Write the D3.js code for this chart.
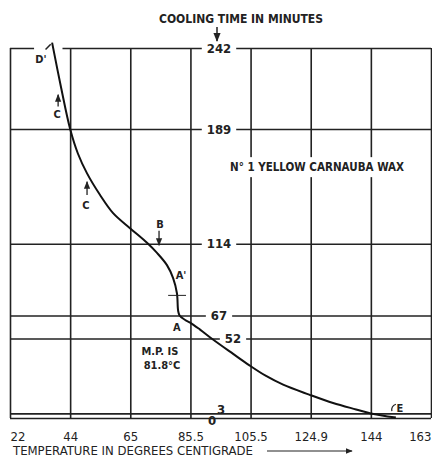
<!DOCTYPE html>
<html>
<head>
<meta charset="utf-8">
<script src="https://cdn.jsdelivr.net/npm/d3@7/dist/d3.min.js"></script>
<style>
  body { margin: 0; background: #fff; }
  text { font-family: "DejaVu Sans Condensed", "DejaVu Sans", sans-serif; fill: #222; }
</style>
</head>
<body>
<script>
// x ticks are printed evenly spaced on the sheet, so the temperature scale is piecewise
var tempTicks = [22, 44, 65, 85.5, 105.5, 124.9, 144, 163];
var timeTicks = [0, 3, 52, 67, 114, 189, 242];

// cooling curve (degrees C, minutes)
var curveTemp = [37.4, 40.7, 44, 46.7, 49.9, 54.4, 59.0, 65, 70.7, 74.1, 77.5, 79.6, 80.9, 81.3, 81.8,
                 83.7, 85.4, 88.7, 93.0, 99.7, 105.0, 110.5, 116.0, 124.4, 132.0, 139.3, 144.0, 151.9];
var curveTime = [245.5, 216, 189, 173, 160, 146, 134, 124, 114.6, 108, 100, 91.5, 81.6, 70.3, 67,
                 64.1, 62.4, 57.8, 51.3, 41.9, 34.6, 27.5, 21.8, 15.3, 9.8, 5.6, 3, 0.3];

// letters written on the curve
var noteText = ["D'", "C", "C", "B", "A'", "A", "M.P. IS", "81.8°C", "E"];
var noteTemp = [33.3, 39.2, 49.5, 75.1, 82.3, 80.9, 75.1, 75.8, 153.2];
var noteTime = [235, 198.8, 139.6, 127.1, 93.5, 59.5, 44.1, 34.7, 6.6];

function draw() {
  var width = 432, height = 458;
  var left = 10, right = 431, top = 48, bottom = 418;
  var ink = "#222";

  var step = (right - left) / (tempTicks.length - 1);
  var x = d3.scaleLinear()
    .domain(tempTicks)
    .range(tempTicks.map((d, i) => left + i * step));
  var y = d3.scaleLinear()
    .domain([0, 242])
    .range([bottom, top]);

  var svg = d3.select("body").append("svg")
    .attr("width", width)
    .attr("height", height);

  var defs = svg.append("defs");
  defs.append("marker")
    .attr("id", "head")
    .attr("viewBox", "0 0 10 10")
    .attr("refX", 9).attr("refY", 5)
    .attr("markerWidth", 6).attr("markerHeight", 6)
    .attr("orient", "auto-start-reverse")
    .append("path")
    .attr("d", "M0,1 L10,5 L0,9 Z")
    .attr("fill", ink);

  // horizontal grid
  var yGrid = svg.append("g")
    .attr("transform", "translate(" + left + ",0)")
    .call(d3.axisLeft(y).tickValues(timeTicks).tickSize(-(right - left)).tickFormat(""));
  yGrid.select(".domain").remove();
  yGrid.selectAll("line").attr("stroke", ink).attr("stroke-width", 1.6);

  // vertical grid + temperature labels
  var xAxis = svg.append("g")
    .attr("transform", "translate(0," + bottom + ")")
    .call(d3.axisBottom(x).tickValues(tempTicks).tickSize(-(bottom - top)).tickPadding(14)
      .tickFormat(d => d));
  xAxis.select(".domain").remove();
  xAxis.selectAll("line").attr("stroke", ink).attr("stroke-width", 1.6);
  xAxis.selectAll("text")
    .attr("fill", ink)
    .style("font-size", "13px")
    .attr("text-anchor", (d, i) => i === 0 ? "start" : (i === tempTicks.length - 1 ? "end" : "middle"));

  // gap in the top line where the curve runs off the sheet
  svg.append("rect")
    .attr("x", x(30.8)).attr("y", top - 3)
    .attr("width", x(41.2) - x(30.8)).attr("height", 6)
    .attr("fill", "#fff");

  // time labels sit in the middle of the grid, breaking the lines
  var labelX = x(95);
  var shift = {52: 14, 3: 2, 0: -7};
  var lift = {3: -4, 0: 2};
  var labels = svg.append("g").selectAll("g")
    .data(timeTicks)
    .enter().append("g")
    .attr("transform", d => "translate(" + (labelX + (shift[d] || 0)) + "," + (y(d) + (lift[d] || 0)) + ")");
  labels.append("text")
    .text(d => d)
    .attr("text-anchor", "middle")
    .attr("dy", "0.36em")
    .style("font-size", "13px")
    .style("font-weight", "bold");
  labels.insert("rect", "text")
    .each(function() {
      var b = this.parentNode.querySelector("text").getBBox();
      d3.select(this)
        .attr("x", b.x - 5).attr("y", -3)
        .attr("width", b.width + 10).attr("height", 6)
        .attr("fill", "#fff");
    });
  labels.filter(d => d === 0 || d === 3).select("rect").attr("width", 0);

  // wax name, also breaking the grid lines
  var wax = svg.append("g").attr("transform", "translate(317,167)");
  var waxText = wax.append("text")
    .attr("text-anchor", "middle")
    .attr("dy", "0.36em")
    .style("font-size", "11.5px")
    .style("font-weight", "bold")
    .text("N° 1 YELLOW CARNAUBA WAX");
  var wb = waxText.node().getBBox();
  wax.insert("rect", "text")
    .attr("x", wb.x - 2).attr("y", wb.y - 3)
    .attr("width", wb.width + 4).attr("height", wb.height + 6)
    .attr("fill", "#fff");

  // the cooling curve
  var pts = curveTemp.map((t, i) => [t, curveTime[i]]);
  svg.append("path")
    .datum(pts)
    .attr("d", d3.line().x(d => x(d[0])).y(d => y(d[1])).curve(d3.curveCatmullRom.alpha(0.5)))
    .attr("fill", "none")
    .attr("stroke", "#111")
    .attr("stroke-width", 2);

  // notes
  svg.append("g").selectAll("text")
    .data(noteText)
    .enter().append("text")
    .attr("x", (d, i) => x(noteTemp[i]))
    .attr("y", (d, i) => y(noteTime[i]))
    .attr("dy", "0.36em")
    .attr("text-anchor", "middle")
    .style("font-size", "11px")
    .style("font-weight", "bold")
    .text(d => d);

  // small arrows beside the letters
  var marks = [
    [39.6, 203.7, 39.6, 211.5],
    [49.9, 145.9, 49.9, 154.5],
    [74.8, 122.5, 74.8, 113.0]
  ];
  svg.append("g").selectAll("line")
    .data(marks)
    .enter().append("line")
    .attr("x1", d => x(d[0])).attr("y1", d => y(d[1]))
    .attr("x2", d => x(d[2])).attr("y2", d => y(d[3]))
    .attr("stroke", ink).attr("stroke-width", 1.3)
    .attr("marker-end", "url(#head)");

  // tick across the curve above A, and the short stroke at D'
  svg.append("line")
    .attr("x1", x(77.9)).attr("x2", x(84.0))
    .attr("y1", y(80.2)).attr("y2", y(80.2))
    .attr("stroke", ink).attr("stroke-width", 1);
  svg.append("line")
    .attr("x1", x(35.0)).attr("y1", y(241))
    .attr("x2", x(36.9)).attr("y2", y(244.5))
    .attr("stroke", ink).attr("stroke-width", 1.5);
  svg.append("path")
    .attr("d", "M" + (x(151.9)) + "," + (y(9)) + " q-5,2 -4,7")
    .attr("fill", "none").attr("stroke", ink).attr("stroke-width", 1.2);

  // titles
  svg.append("text")
    .attr("x", 241).attr("y", 23)
    .attr("text-anchor", "middle")
    .style("font-size", "12px")
    .style("font-weight", "bold")
    .text("COOLING TIME IN MINUTES");
  svg.append("line")
    .attr("x1", 217).attr("x2", 217)
    .attr("y1", 27).attr("y2", 41)
    .attr("stroke", ink).attr("stroke-width", 1.5)
    .attr("marker-end", "url(#head)");

  svg.append("text")
    .attr("x", 13).attr("y", 455)
    .style("font-size", "13px")
    .text("TEMPERATURE IN DEGREES CENTIGRADE");
  svg.append("line")
    .attr("x1", 267).attr("x2", 352)
    .attr("y1", 451).attr("y2", 451)
    .attr("stroke", ink).attr("stroke-width", 1.2)
    .attr("marker-end", "url(#head)");
}

draw();
</script>
</body>
</html>
